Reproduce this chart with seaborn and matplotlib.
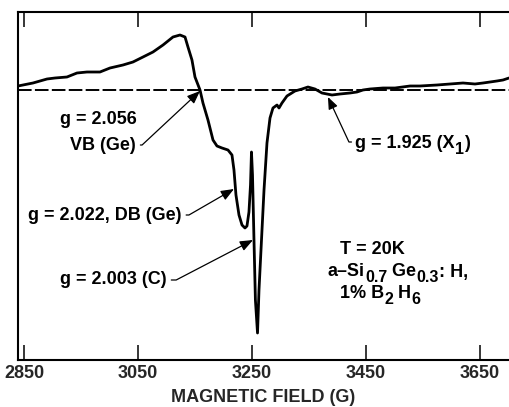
import numpy as np
import pandas as pd
import matplotlib
matplotlib.use("Agg")
import matplotlib.pyplot as plt
from matplotlib.transforms import offset_copy
import seaborn as sns

# ---- data ----
field = [2839.5, 2865.8, 2890.4, 2904.4, 2925.4, 2943.0, 2960.5, 2983.3, 3000.9,
         3023.7, 3041.2, 3058.8, 3076.3, 3093.9, 3111.4, 3123.7, 3132.5, 3137.7,
         3144.7, 3150.0, 3158.8, 3164.0, 3172.8, 3181.6, 3188.6, 3197.4, 3207.9,
         3214.9, 3218.4, 3221.9, 3227.2, 3232.5, 3237.7, 3241.2, 3244.7, 3247.4,
         3249.1, 3250.9, 3253.5, 3256.0, 3259.7, 3262.3, 3265.8, 3271.1, 3276.3,
         3281.6, 3286.8, 3293.9, 3297.4, 3302.6, 3311.4, 3325.4, 3337.7, 3348.2,
         3360.5, 3372.8, 3390.4, 3404.4, 3421.9, 3434.2, 3444.7, 3457.0, 3479.8,
         3500.9, 3527.2, 3544.7, 3574.6, 3597.4, 3620.2, 3641.2, 3655.3, 3667.6,
         3679.8, 3690.4, 3700.9]
signal = [4, 7, 11, 12, 13, 17, 18, 18, 22,
          25, 28, 33, 38, 45, 53, 55, 53, 43,
          30, 13, 0, -13, -30, -50, -56, -58, -60,
          -65, -80, -105, -125, -135, -138, -136, -122, -95,
          -62, -85, -150, -210, -243, -200, -160, -100, -53,
          -28, -18, -15, -18, -13, -6, -1, 1, 3,
          1, -3, -5, -4, -3, -2, 0, 1, 2,
          2, 4, 4, 5, 6, 7, 6, 7, 8,
          9, 10, 12]

tick_values = [2850, 3050, 3250, 3450, 3650]
tick_labels = ["2850", "3050", "3250", "3450", "3650"]
x_label = "MAGNETIC FIELD (G)"

df = pd.DataFrame({"field": field, "signal": signal})

# ---- style ----
sns.set_theme(style="white")
plt.rcParams["font.family"] = ["Liberation Sans", "DejaVu Sans"]
plt.rcParams["font.weight"] = "bold"

fig = plt.figure(figsize=(5.09, 4.07), dpi=100)
ax = fig.add_axes([18 / 509, 1 - 360 / 407, 1 - 18 / 509, (360 - 12) / 407])

sns.lineplot(data=df, x="field", y="signal", ax=ax, color="black",
             linewidth=2.0, sort=False, estimator=None)
ax.axhline(0, color="black", linewidth=1.4, linestyle=(0, (7.0, 1.7)))

ax.set_xlim(2839.5, 3700.9)
ax.set_ylim(-270, 78)

ax.set_xticks(tick_values)
ax.set_xticklabels(tick_labels, fontsize=13, fontweight="bold")
ax.set_yticks([])
ax.set_ylabel("")
ax.set_xlabel(x_label, fontsize=13, fontweight="bold", labelpad=5.5)
ax.tick_params(axis="x", which="both", direction="in", top=True, bottom=True,
               length=11, width=1.1, color="black", pad=3.5)
for side in ["left", "top", "bottom"]:
    ax.spines[side].set_visible(True)
    ax.spines[side].set_color("black")
    ax.spines[side].set_linewidth(1.5)
ax.spines["right"].set_visible(False)

renderer = fig.canvas.get_renderer()


def rich_text(x, y, pieces, size=13, sub_size=11.5, sub_drop=4.0):
    """Write text pieces left to right from a baseline point; pieces flagged
    True are drawn as subscripts."""
    dx = 0.0
    for s, sub in pieces:
        tr = offset_copy(ax.transData, fig=fig, x=dx,
                         y=-sub_drop if sub else 0.0, units="points")
        t = ax.text(x, y, s, transform=tr, ha="left", va="baseline",
                    fontsize=sub_size if sub else size, fontweight="bold",
                    color="black")
        dx += t.get_window_extent(renderer).width * 72.0 / fig.dpi


txt = dict(fontsize=13, fontweight="bold", color="black")
arrow = dict(arrowstyle="-|>,head_length=0.6,head_width=0.24", color="black",
             linewidth=0.9, shrinkA=1, shrinkB=0)

ax.text(2913.2, -30, "g = 2.056", ha="left", va="center", **txt)
ax.annotate("VB (Ge)", xy=(3158.8, -1), xytext=(2930.7, -55),
            ha="left", va="center", **txt,
            arrowprops=dict(**arrow, relpos=(1, 0.5),
                            connectionstyle="angle,angleA=0,angleB=43,rad=0"))
ax.annotate("g = 2.022, DB (Ge)", xy=(3218.4, -99), xytext=(2857.0, -125),
            ha="left", va="center", **txt,
            arrowprops=dict(**arrow, relpos=(1, 0.5),
                            connectionstyle="angle,angleA=0,angleB=30,rad=0"))
ax.annotate("g = 2.003 (C)", xy=(3251.8, -150), xytext=(2913.2, -190),
            ha="left", va="center", **txt,
            arrowprops=dict(**arrow, relpos=(1, 0.5),
                            connectionstyle="angle,angleA=0,angleB=27.5,rad=0"))

# g = 1.925 (X1) with its hooked leader
ax.annotate("", xy=(3383.3, -7), xytext=(3427.0, -52),
            arrowprops=dict(**arrow,
                            connectionstyle="angle,angleA=180,angleB=115,rad=0"))
rich_text(3431.0, -58.5, [("g = 1.925 (X", False), ("1", True), (")", False)])

rich_text(3404.4, -164.5, [("T = 20K", False)])
rich_text(3383.3, -186.5, [("a\u2013Si", False), ("0.7", True), (" Ge", False),
                           ("0.3", True), (": H,", False)])
rich_text(3404.4, -208.5, [("1% B", False), ("2", True), (" H", False), ("6", True)])

fig.savefig("out.png", dpi=100)
